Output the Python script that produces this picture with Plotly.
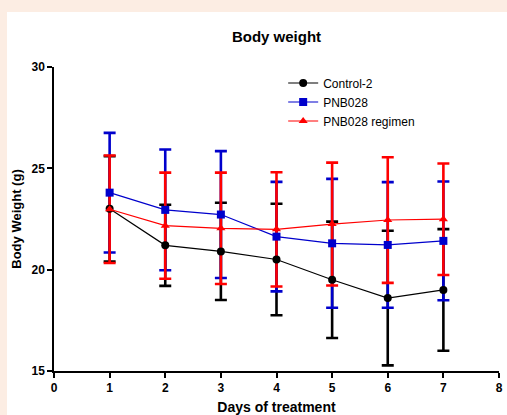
import plotly.graph_objects as go

days = [1, 2, 3, 4, 5, 6, 7]

control_mean = [23.0, 21.2, 20.9, 20.5, 19.5, 18.6, 19.0]
control_sd = [2.6, 2.0, 2.4, 2.75, 2.87, 3.32, 3.0]

pnb_mean = [23.8, 22.95, 22.72, 21.63, 21.3, 21.22, 21.42]
pnb_sd = [2.95, 2.98, 3.13, 2.7, 3.18, 3.1, 2.93]

reg_mean = [22.98, 22.17, 22.04, 21.99, 22.25, 22.45, 22.49]
reg_sd = [2.65, 2.62, 2.75, 2.82, 3.03, 3.1, 2.75]

series = [
    ("Control-2", control_mean, control_sd, "#000000", "circle"),
    ("PNB028", pnb_mean, pnb_sd, "#0000cc", "square"),
    ("PNB028 regimen", reg_mean, reg_sd, "#ff0000", "triangle-up"),
]

font = "Liberation Sans, Arial, sans-serif"
fig = go.Figure()

# error bars first (drawn underneath the lines/markers)
for name, m, sd, col, sym in series:
    fig.add_trace(go.Scatter(
        x=days, y=m, mode="markers", showlegend=False, hoverinfo="skip",
        marker=dict(size=1, color="rgba(0,0,0,0)"),
        error_y=dict(type="data", array=sd, visible=True, color=col,
                     thickness=2.6, width=6),
    ))

for name, m, sd, col, sym in series:
    fig.add_trace(go.Scatter(
        x=days, y=m, mode="lines+markers", name=name,
        line=dict(color=col, width=1.2),
        marker=dict(symbol=sym, size=8, color=col),
    ))

L, R, T, B = 54, 8, 67, 44
W, H = 507, 415
pw, ph = W - L - R, H - T - B

fig.add_shape(type="rect", xref="paper", yref="paper", layer="below",
              x0=(7 - L) / pw, x1=(W - L) / pw + 0.01,
              y0=-(B + 2) / ph, y1=(H - 12 - B) / ph,
              fillcolor="white", line=dict(width=0))

fig.update_layout(
    width=W, height=H,
    margin=dict(l=L, r=R, t=T, b=B),
    paper_bgcolor="#fcede3",
    plot_bgcolor="white",
    font=dict(family=font, color="#000000"),
    title=dict(text="<b>Body weight</b>", x=(L + pw / 2) / W, xanchor="center",
               y=1 - 37 / H, yanchor="middle", font=dict(size=15, family=font)),
    legend=dict(x=0.515, y=0.995, xanchor="left", yanchor="top",
                bgcolor="rgba(0,0,0,0)", font=dict(size=12, family=font),
                tracegroupgap=0, itemsizing="trace", itemwidth=30),
    showlegend=True,
)

fig.update_xaxes(range=[0, 8], tickvals=[0, 1, 2, 3, 4, 5, 6, 7, 8],
                 showgrid=False, zeroline=False, showline=True,
                 linecolor="black", linewidth=1.5, ticks="outside",
                 ticklen=5, tickwidth=1.5, tickcolor="black",
                 automargin=False,
                 tickfont=dict(size=12, family=font, weight="bold"),
                 title=dict(text="<b>Days of treatment</b>", standoff=8,
                            font=dict(size=14, family=font)))
fig.update_yaxes(range=[15, 30], tickvals=[15, 20, 25, 30],
                 showgrid=False, zeroline=False, showline=True,
                 linecolor="black", linewidth=1.5, ticks="outside",
                 ticklen=5, tickwidth=1.5, tickcolor="black",
                 automargin=False,
                 tickfont=dict(size=12, family=font, weight="bold"),
                 title=dict(text="<b>Body Weight (g)</b>", standoff=7,
                            font=dict(size=13, family=font)))

fig.write_html("out.html")
